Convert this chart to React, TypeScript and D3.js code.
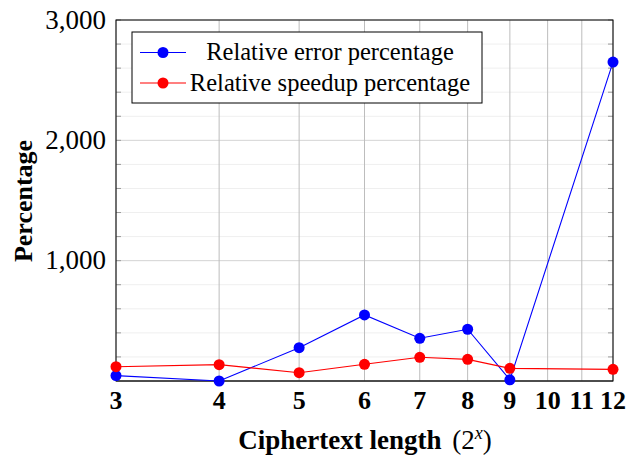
import * as d3 from 'd3';
import React from 'react';

const lengths = [3, 4, 5, 6, 7, 8, 9, 12];
const xTicks = [3, 4, 5, 6, 7, 8, 9, 10, 11, 12];
const errorPct = [45, 0, 277, 549, 355, 430, 10, 2650];
const speedupPct = [119, 136, 69, 139, 197, 180, 105, 97];
const yMajor = [1000, 2000, 3000];
const yMinor = [200, 400, 600, 800, 1200, 1400, 1600, 1800, 2200, 2400, 2600, 2800];

const series = [
  { name: 'Relative error percentage', color: '#0000ff', values: errorPct },
  { name: 'Relative speedup percentage', color: '#ff0000', values: speedupPct },
];

const App: React.FC = () => {
  const width = 627;
  const height = 458;
  const margin = { top: 20, right: 14, bottom: 77, left: 116 };
  const innerWidth = width - margin.left - margin.right;
  const innerHeight = height - margin.top - margin.bottom;

  const xScale = d3.scaleLog().domain([3, 12]).range([0, innerWidth]);
  const yScale = d3.scaleLinear().domain([0, 3000]).range([innerHeight, 0]);

  const line = d3
    .line<number>()
    .x((_, i) => xScale(lengths[i]))
    .y((d) => yScale(d));

  const font = "'Liberation Serif', 'DejaVu Serif', serif";

  return (
    <svg
      width={width}
      height={height}
      style={{ position: 'absolute', left: 0, top: 0 }}
      fontFamily={font}
    >
      <g transform={`translate(${margin.left},${margin.top})`}>
        {yMinor.map((t) => (
          <line key={`mn-${t}`} x1={0} x2={innerWidth} y1={yScale(t)} y2={yScale(t)} stroke="#efefef" />
        ))}
        {yMajor.map((t) => (
          <line key={`mj-${t}`} x1={0} x2={innerWidth} y1={yScale(t)} y2={yScale(t)} stroke="#d4d4d4" />
        ))}
        {xTicks.map((t) => (
          <line key={`vx-${t}`} x1={xScale(t)} x2={xScale(t)} y1={0} y2={innerHeight} stroke="#bdbdbd" />
        ))}
        {[...yMinor, ...yMajor].map((t) => (
          <g key={`tk-${t}`} stroke="#999">
            <line x1={0} x2={5} y1={yScale(t)} y2={yScale(t)} />
            <line x1={innerWidth - 5} x2={innerWidth} y1={yScale(t)} y2={yScale(t)} />
          </g>
        ))}
        <line x1={0} x2={innerWidth} y1={innerHeight} y2={innerHeight} stroke="#777" strokeWidth={1.5} />
        <rect x={0} y={0} width={innerWidth} height={innerHeight} fill="none" stroke="#000" strokeWidth={1} />

        {series.map((s) => (
          <g key={s.name}>
            <path d={line(s.values) || ''} fill="none" stroke={s.color} strokeWidth={1.1} />
            {s.values.map((v, i) => (
              <circle key={i} cx={xScale(lengths[i])} cy={yScale(v)} r={5.5} fill={s.color} />
            ))}
          </g>
        ))}

        {yMajor.map((t) => (
          <text key={`yl-${t}`} x={-10} y={yScale(t) + 8.5} textAnchor="end" fontSize={27}>
            {d3.format(',')(t)}
          </text>
        ))}
        {xTicks.map((t) => (
          <text
            key={`xl-${t}`}
            x={xScale(t)}
            y={409 - margin.top}
            textAnchor="middle"
            fontSize={26}
            fontWeight="bold"
          >
            {t}
          </text>
        ))}

        <text
          transform={`translate(${23 - margin.left},${201 - margin.top}) rotate(-90)`}
          textAnchor="middle"
          dy="0.35em"
          fontSize={26}
          fontWeight="bold"
        >
          Percentage
        </text>
        <text x={365 - margin.left} y={449 - margin.top} textAnchor="middle" fontSize={27}>
          <tspan fontWeight="bold">Ciphertext length </tspan>
          <tspan dx={4}>(2</tspan>
          <tspan dy={-10} fontSize={18} fontStyle="italic">x</tspan>
          <tspan dy={10}>)</tspan>
        </text>

        <g transform={`translate(${132 - margin.left},${32 - margin.top})`}>
          <rect x={0} y={0} width={350} height={71} fill="#fff" stroke="#000" />
          {series.map((s, i) => (
            <g key={`lg-${s.name}`} transform={`translate(0,${20.5 + i * 30.5})`}>
              <line x1={8} x2={54} y1={0} y2={0} stroke={s.color} strokeWidth={1.1} />
              <circle cx={31} cy={0} r={5.5} fill={s.color} />
              <text x={198} y={7.5} textAnchor="middle" fontSize={24.5}>
                {s.name}
              </text>
            </g>
          ))}
        </g>
      </g>
    </svg>
  );
};

export default App;
